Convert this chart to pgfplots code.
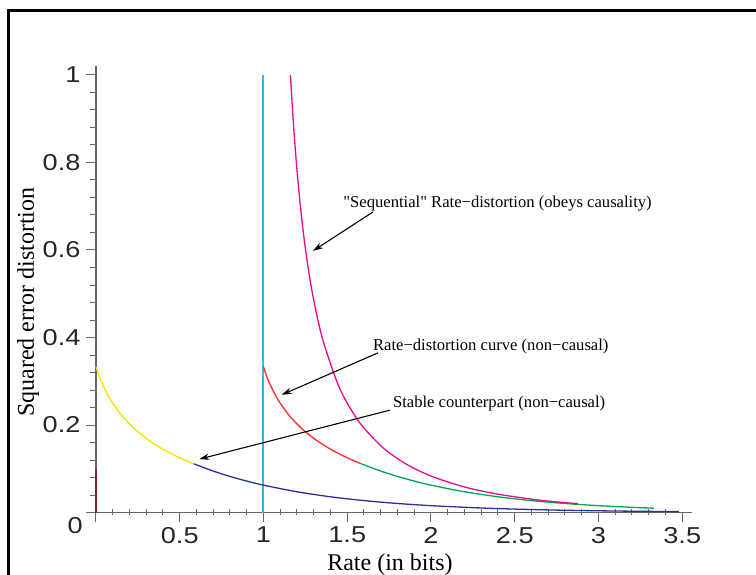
\documentclass[border=0pt]{standalone}
\usepackage{fontspec}
\setmainfont{Liberation Serif}
\newfontfamily\helv{Liberation Sans}
\usepackage{graphicx}
\usepackage{pgfplots}
\pgfplotsset{compat=1.18}
\usetikzlibrary{arrows.meta}

\definecolor{cYellow}{HTML}{F2E200}
\definecolor{cBlue}{HTML}{2B2F9C}
\definecolor{cRed}{HTML}{FF2A2A}
\definecolor{cGreen}{HTML}{00A651}
\definecolor{cPink}{HTML}{EC0A8C}
\definecolor{lineCyan}{RGB}{52,182,236}
\definecolor{cBrown}{HTML}{8E2323}

\newcommand{\tl}[1]{\scalebox{1.18}[1]{#1}}

% stable counterpart, water-filling part (R, D)
\pgfplotstableread{
R D
0.0000 0.3333
0.0051 0.3268
0.0327 0.2982
0.0848 0.2589
0.1526 0.2222
0.2278 0.1921
0.3042 0.1683
0.3775 0.1498
0.4442 0.1356
0.5012 0.1249
0.5456 0.1174
0.5850 0.1111
}\yellowtab

\pgfplotstableread{
R D
0.585 0.1111
0.70 0.09473
0.80 0.08247
0.90 0.07179
1.00 0.06250
1.20 0.04737
1.40 0.03590
1.60 0.02720
1.80 0.02062
2.00 0.01563
2.25 0.01105
2.50 0.00781
2.75 0.00552
3.00 0.00391
3.25 0.00276
3.48 0.00201
}\bluetab

\pgfplotstableread{
R D
1.0000 0.3333
1.0051 0.3268
1.0327 0.2982
1.0848 0.2589
1.1526 0.2222
1.2278 0.1921
1.3042 0.1683
1.3775 0.1498
1.4442 0.1356
1.5012 0.1249
1.5456 0.1174
1.5850 0.1111
}\redtab

\pgfplotstableread{
R D
1.585 0.1111
1.70 0.09473
1.80 0.08247
1.90 0.07179
2.00 0.06250
2.20 0.04737
2.40 0.03590
2.60 0.02720
2.80 0.02062
3.00 0.01563
3.20 0.01184
3.33 0.00988
}\greentab

\pgfplotstableread{
R D
1.16096 1.00
1.17681 0.90
1.19616 0.80
1.22028 0.70
1.25125 0.60
1.29248 0.50
1.35022 0.40
1.43724 0.30
1.50000 0.25
1.58496 0.20
1.70752 0.15
1.81225 0.12
1.90368 0.10
2.02220 0.08
2.18459 0.06
2.29248 0.05
2.42899 0.04
2.61120 0.03
2.72972 0.025
2.87745 0.02
}\pinktab

\begin{document}
\begin{tikzpicture}
\begin{axis}[
  x=83.75pt, y=218.75pt,
  xmin=0, xmax=3.56, ymin=0, ymax=1.02,
  axis lines*=left,
  axis line style={black!60, line width=0.6pt},
  clip=false,
  tick align=outside,
  major tick length=4.75pt,
  minor tick length=3pt,
  tick style={black!60, line width=0.5pt},
  minor x tick style={yshift=1.6pt},
  xtick={0,0.5,1,1.5,2,2.5,3,3.5},
  xticklabels={,\tl{0.5},\tl{1},\tl{1.5},\tl{2},\tl{2.5},\tl{3},\tl{3.5}},
  ytick={0,0.2,0.4,0.6,0.8,1},
  yticklabels={,\tl{0.2},\tl{0.4},\tl{0.6},\tl{0.8},\tl{1}},
  minor x tick num=4,
  minor y tick num=4,
  ticklabel style={font=\helv\fontsize{11.5}{13}\selectfont, text=black!85},
  xticklabel style={anchor=north, yshift=1pt},
  yticklabel style={anchor=east, xshift=0.5pt},
  xlabel={Rate (in bits)},
  ylabel={Squared error distortion},
  label style={font=\fontsize{12}{14}\selectfont},
  xlabel style={at={(axis cs:1.755,-0.12)}, anchor=center},
  ylabel style={at={(axis cs:-0.406,0.481)}, anchor=center, rotate=0},
  every axis plot/.append style={line width=0.65pt, no markers},
]
\addplot[draw=cBrown] coordinates {(0,0) (0,0.1)};
\addplot[color=lineCyan, line width=1pt] coordinates {(1,0) (1,0.5) (1,1)};
\addplot[draw=cYellow, smooth] table[x=R, y=D] {\yellowtab};
\addplot[draw=cBlue, smooth] table[x=R, y=D] {\bluetab};
\addplot[draw=cRed, smooth] table[x=R, y=D] {\redtab};
\addplot[draw=cGreen, smooth] table[x=R, y=D] {\greentab};
\addplot[draw=cPink, smooth] table[x=R, y=D] {\pinktab};

\node[font=\helv\fontsize{11.5}{13}\selectfont, text=black!85] at (axis cs:-0.125,-0.029) {\tl{0}};

\begin{scope}[every node/.style={font=\fontsize{8.3}{10}\selectfont, inner sep=0pt, anchor=west}]
\node at (axis cs:1.475,0.707) {\textquotedbl Sequential\textquotedbl\ Rate−distortion (obeys causality)};
\node at (axis cs:1.652,0.379) {Rate−distortion curve (non−causal)};
\node at (axis cs:1.771,0.248) {Stable counterpart (non−causal)};
\end{scope}
\begin{scope}[-{Stealth[length=5pt,width=3.2pt]}, line width=0.55pt]
\draw (axis cs:1.654,0.687) -- (axis cs:1.296,0.598);
\draw (axis cs:1.684,0.365) -- (axis cs:1.109,0.269);
\draw (axis cs:1.755,0.234) -- (axis cs:0.617,0.122);
\end{scope}
\end{axis}
% outer frame of the original figure
\draw[line width=1.6pt] (-43.85pt,-31pt) -- (-43.85pt,251pt) -- (331pt,251pt);
\pgfresetboundingbox
\path (-48pt,-30.75pt) rectangle (330pt,256.25pt);
\end{tikzpicture}
\end{document}
